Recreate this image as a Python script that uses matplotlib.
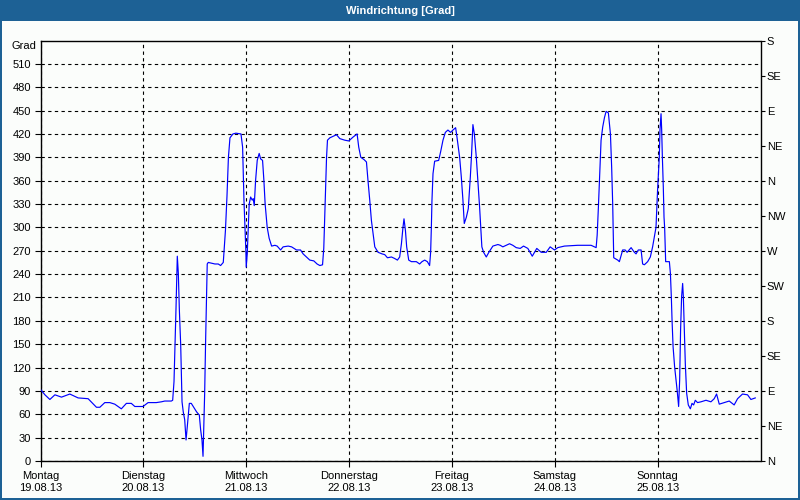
import matplotlib
matplotlib.use("Agg")
import matplotlib.pyplot as plt
from matplotlib.patches import Rectangle

plt.rcParams["font.family"] = ["Liberation Sans", "DejaVu Sans"]

# ---- data (time in days since Monday 19.08.13 00:00, direction in degrees) ----
days = [
    0.000, 0.043, 0.091, 0.140, 0.204, 0.285, 0.366, 0.463, 0.544, 0.577,
    0.625, 0.674, 0.722, 0.786, 0.835, 0.883, 0.917, 0.997, 1.046, 1.126,
    1.175, 1.208, 1.272, 1.285, 1.298, 1.308, 1.317, 1.330, 1.340, 1.350,
    1.363, 1.376, 1.388, 1.402, 1.415, 1.427, 1.447, 1.466, 1.518, 1.544,
    1.557, 1.570, 1.580, 1.586, 1.596, 1.606, 1.621, 1.631, 1.696, 1.728,
    1.751, 1.777, 1.798, 1.813, 1.827, 1.842, 1.871, 1.900, 1.949, 1.965,
    1.978, 1.988, 1.997, 2.000, 2.010, 2.019, 2.029, 2.043, 2.058, 2.068,
    2.078, 2.091, 2.107, 2.126, 2.140, 2.159, 2.172, 2.184, 2.204, 2.223,
    2.247, 2.279, 2.301, 2.334, 2.359, 2.408, 2.441, 2.489, 2.528, 2.553,
    2.586, 2.618, 2.657, 2.689, 2.716, 2.742, 2.754, 2.767, 2.781, 2.790,
    2.813, 2.845, 2.878, 2.910, 2.958, 2.997, 3.039, 3.078, 3.094, 3.114,
    3.146, 3.169, 3.184, 3.201, 3.217, 3.233, 3.250, 3.282, 3.320, 3.347,
    3.373, 3.412, 3.444, 3.470, 3.492, 3.509, 3.524, 3.534, 3.548, 3.560,
    3.580, 3.606, 3.654, 3.686, 3.709, 3.735, 3.761, 3.783, 3.793, 3.800,
    3.806, 3.816, 3.832, 3.871, 3.890, 3.913, 3.936, 3.961, 3.987, 4.010,
    4.036, 4.049, 4.075, 4.091, 4.107, 4.120, 4.140, 4.159, 4.179, 4.191,
    4.204, 4.218, 4.237, 4.252, 4.269, 4.282, 4.291, 4.308, 4.334, 4.359,
    4.398, 4.447, 4.470, 4.495, 4.528, 4.560, 4.592, 4.625, 4.664, 4.696,
    4.738, 4.781, 4.825, 4.868, 4.917, 4.955, 4.997, 5.029, 5.094, 5.223,
    5.353, 5.402, 5.412, 5.424, 5.434, 5.450, 5.466, 5.483, 5.499, 5.521,
    5.541, 5.553, 5.563, 5.573, 5.612, 5.628, 5.645, 5.660, 5.684, 5.703,
    5.742, 5.774, 5.790, 5.812, 5.839, 5.854, 5.871, 5.903, 5.929, 5.951,
    5.968, 5.984, 5.999, 6.016, 6.023, 6.033, 6.039, 6.046, 6.055, 6.062,
    6.068, 6.078, 6.114, 6.124, 6.133, 6.140, 6.150, 6.165, 6.179, 6.191,
    6.204, 6.214, 6.223, 6.233, 6.243, 6.250, 6.259, 6.269, 6.282, 6.298,
    6.318, 6.334, 6.350, 6.366, 6.388, 6.421, 6.470, 6.518, 6.550, 6.573,
    6.599, 6.648, 6.696, 6.744, 6.777, 6.825, 6.874, 6.907, 6.949,
]
direction = [
    92, 85, 79, 85, 82, 86, 81, 80, 69, 69,
    75, 75, 73, 67, 74, 74, 70, 70, 75, 75,
    76, 77, 77, 78, 102, 149, 194, 263, 241, 194,
    149, 76, 63, 53, 27, 44, 74, 74, 63, 59,
    40, 27, 6, 35, 87, 159, 253, 255, 253, 253,
    251, 255, 296, 340, 390, 415, 420, 421, 420, 403,
    335, 300, 268, 249, 266, 296, 330, 339, 335, 337,
    328, 360, 386, 395, 388, 386, 360, 330, 300, 286,
    276, 277, 276, 271, 275, 276, 275, 271, 271, 266,
    262, 258, 257, 253, 251, 252, 273, 330, 390, 412,
    415, 417, 419, 414, 412, 411, 416, 420, 403, 390,
    387, 384, 360, 335, 309, 292, 275, 268, 266, 265,
    261, 262, 260, 258, 262, 279, 300, 311, 296, 275,
    258, 256, 256, 253, 256, 258, 256, 251, 268, 300,
    335, 369, 385, 386, 397, 412, 422, 425, 422, 425,
    428, 416, 390, 365, 335, 305, 313, 324, 365, 394,
    432, 420, 390, 360, 326, 296, 275, 268, 262, 268,
    276, 278, 277, 275, 277, 279, 277, 274, 273, 276,
    273, 263, 273, 268, 268, 275, 271, 274, 276, 277,
    277, 274, 290, 326, 360, 412, 429, 441, 449, 447,
    420, 377, 330, 261, 258, 256, 264, 271, 271, 268,
    274, 268, 266, 271, 271, 253, 252, 256, 262, 275,
    288, 300, 347, 390, 426, 446, 426, 390, 352, 313,
    300, 256, 256, 241, 211, 181, 147, 121, 104, 89,
    70, 104, 168, 211, 228, 211, 168, 125, 87, 72,
    67, 74, 72, 78, 75, 76, 78, 76, 80, 86,
    73, 75, 77, 72, 80, 86, 85, 79, 81,
]

day_names = ["Montag", "Dienstag", "Mittwoch", "Donnerstag", "Freitag", "Samstag", "Sonntag"]
dates = ["19.08.13", "20.08.13", "21.08.13", "22.08.13", "23.08.13", "24.08.13", "25.08.13"]
left_ticks = list(range(0, 511, 30))
right_ticks = list(range(0, 541, 45))
right_labels = ["N", "NE", "E", "SE", "S", "SW", "W", "NW", "N", "NE", "E", "SE", "S"]
title = "Windrichtung [Grad]"

# ---- figure ----
BG = "#FBFDFB"
BAR = "#1D6195"
fig = plt.figure(figsize=(8, 5), dpi=100, facecolor=BG)

# title bar and border
fig.patches.append(Rectangle((0, 1 - 21 / 500), 1, 21 / 500, transform=fig.transFigure,
                             facecolor=BAR, edgecolor="none", zorder=0))
for (x0, y0, w, h) in [(0, 0, 2 / 800, 1), (1 - 2 / 800, 0, 2 / 800, 1), (0, 0, 1, 2 / 500)]:
    fig.patches.append(Rectangle((x0, y0), w, h, transform=fig.transFigure,
                                 facecolor=BAR, edgecolor="none", zorder=0))
fig.text(0.5, 1 - 10.5 / 500, title, color="white", fontsize=8, fontweight="bold",
         ha="center", va="center")

ax = fig.add_axes([40.5 / 800, 1 - 461 / 500, 720 / 800, 420.5 / 500])
ax.set_facecolor(BG)
ax.plot(days, direction, color="#0000FF", linewidth=0.85, zorder=3)

ax.set_xlim(0, 7)
ax.set_ylim(0, 540)
ax.set_yticks(left_ticks)
ax.set_yticklabels([str(v) for v in left_ticks])
ax.set_xticks(range(7))
ax.set_xticklabels([f"{n}\n{d}" for n, d in zip(day_names, dates)], linespacing=1.3)

ax.grid(True, color="black", linestyle=(0, (3, 3)), linewidth=0.8, zorder=1)
for s in ax.spines.values():
    s.set_color("black")
    s.set_linewidth(1.0)

ax.tick_params(axis="both", direction="out", length=4, width=0.8, colors="black",
               labelsize=8, pad=3)
ax.tick_params(axis="x", pad=3)

ax.text(-0.006, 1 - 5.5 / 420.5, "Grad", transform=ax.transAxes, ha="right", va="center",
        fontsize=8, color="black")

ax2 = ax.twinx()
ax2.set_ylim(0, 540)
ax2.set_yticks(right_ticks)
ax2.set_yticklabels(right_labels)
ax2.tick_params(axis="y", direction="out", length=3, width=0.8, colors="black",
                labelsize=8, pad=1.5)
for s in ax2.spines.values():
    s.set_visible(False)

fig.savefig("out.png", dpi=100, facecolor=BG)
